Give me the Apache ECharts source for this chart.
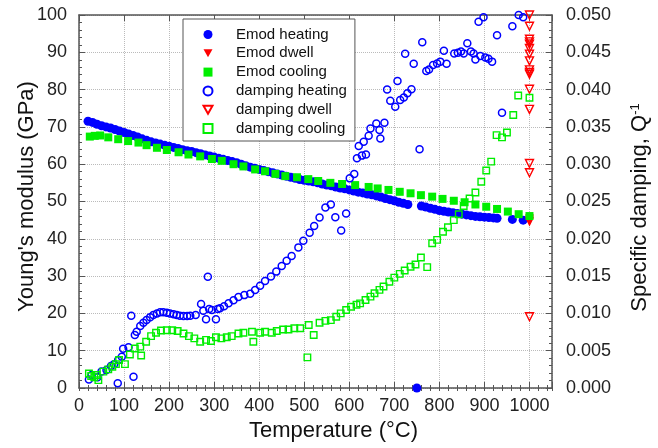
<!DOCTYPE html>
<html><head><meta charset="utf-8">
<script src="https://cdn.jsdelivr.net/npm/echarts@6/dist/echarts.min.js"></script>
<style>html,body{margin:0;padding:0;background:#fff}#c{width:658px;height:448px}</style>
</head><body><div id="c"></div>
<script>
// ---- data (Temperature °C, value) ----
const xTickLabels = [0,100,200,300,400,500,600,700,800,900,1000];
const emodHeating = [[20,71.5],[30,71.2],[40,70.7],[50,70.3],[60,70.0],[70,69.7],[80,69.3],[90,68.9],[100,68.5],[110,68.1],[120,67.7],[130,67.3],[140,66.8],[150,66.4],[160,66.0],[170,65.7],[180,65.4],[190,65.1],[200,64.8],[210,64.5],[220,64.2],[230,63.9],[240,63.6],[250,63.4],[260,63.1],[270,62.8],[280,62.5],[290,62.2],[300,61.9],[310,61.6],[320,61.3],[330,61.0],[340,60.7],[350,60.4],[360,60.0],[370,59.6],[380,59.2],[390,58.9],[400,58.6],[410,58.3],[420,58.0],[430,57.7],[440,57.4],[450,57.1],[460,56.8],[470,56.5],[480,56.2],[490,55.9],[500,55.7],[510,55.5],[520,55.3],[530,55.0],[540,54.7],[550,54.4],[560,54.2],[570,53.9],[580,53.6],[590,53.4],[600,53.1],[610,52.8],[620,52.5],[630,52.3],[640,52.0],[650,51.8],[660,51.5],[670,51.2],[680,50.8],[690,50.5],[700,50.2],[710,49.8],[720,49.5],[730,49.2],[750,0],[760,48.8],[770,48.5],[780,48.2],[790,47.9],[800,47.6],[810,47.4],[820,47.2],[830,47.0],[840,46.8],[850,46.6],[860,46.4],[870,46.2],[880,46.0],[890,45.9],[900,45.8],[910,45.7],[920,45.6],[928,45.5],[962,45.2],[986,45.0]];
const emodDwell = [[1000,45.3],[1000,44.8],[1000,44.5]];
const emodCooling = [[1000,46.1],[976,46.6],[952,47.3],[928,48.0],[904,48.6],[880,49.2],[856,49.8],[832,50.2],[807,50.7],[784,51.3],[759,51.7],[736,52.2],[712,52.6],[687,53.1],[663,53.5],[643,53.9],[613,54.4],[584,54.7],[558,55.0],[531,55.5],[509,56.0],[484,56.5],[458,56.8],[436,57.4],[413,58.1],[391,58.6],[365,59.4],[343,60.0],[317,60.9],[295,61.4],[269,62.1],[243,62.6],[221,63.2],[195,63.8],[173,64.4],[150,65.1],[132,65.8],[109,66.2],[87,66.7],[65,67.2],[47,67.7],[35,67.6],[24,67.4]];
const dampingHeating = [[22,0.00115],[28,0.00175],[41,0.00145],[50,0.0022],[61,0.0024],[71,0.00295],[78,0.0032],[86,0.00065],[87,0.00375],[95,0.0042],[98,0.00525],[110,0.00545],[116,0.0097],[121,0.0015],[124,0.0071],[128,0.00755],[136,0.0083],[143,0.00875],[150,0.0091],[158,0.0095],[165,0.0098],[173,0.0100],[180,0.01015],[187,0.01015],[195,0.0101],[202,0.0100],[210,0.0099],[217,0.0098],[224,0.0097],[232,0.00965],[240,0.00965],[247,0.0097],[259,0.0098],[271,0.01125],[276,0.01035],[282,0.0092],[286,0.0149],[289,0.0106],[295,0.01045],[304,0.0092],[308,0.0106],[313,0.0107],[322,0.01095],[332,0.01135],[343,0.01175],[354,0.0122],[367,0.01245],[380,0.01265],[391,0.01315],[402,0.0137],[413,0.01435],[426,0.01495],[438,0.0156],[450,0.01635],[461,0.01705],[472,0.0177],[487,0.01885],[498,0.01975],[512,0.0208],[522,0.0217],[534,0.02285],[547,0.0242],[559,0.0246],[569,0.0229],[582,0.0211],[593,0.0234],[601,0.0281],[611,0.0287],[617,0.0308],[621,0.03245],[628,0.03115],[632,0.033],[637,0.0313],[643,0.0338],[647,0.0348],[660,0.03545],[667,0.0346],[669,0.03345],[678,0.03555],[684,0.0400],[691,0.0385],[702,0.0377],[707,0.04115],[713,0.0386],[721,0.03895],[724,0.0448],[729,0.0395],[738,0.04005],[743,0.04345],[756,0.0320],[762,0.04635],[771,0.0425],[777,0.0427],[786,0.0433],[795,0.0435],[802,0.04375],[810,0.0452],[816,0.04345],[833,0.04485],[841,0.04495],[848,0.0451],[854,0.04485],[862,0.0462],[870,0.0451],[876,0.04485],[880,0.04405],[887,0.0491],[891,0.0445],[898,0.0497],[902,0.0443],[909,0.04415],[917,0.04375],[928,0.0473],[939,0.0369],[962,0.0485],[976,0.0500],[986,0.0497]];
const dampingDwell = [[1000,0.0500],[1000,0.0485],[1000,0.04675],[1000,0.0464],[1000,0.0461],[1000,0.0455],[1000,0.04475],[1000,0.04385],[1000,0.04265],[1000,0.0423],[1000,0.04205],[1000,0.04005],[1000,0.03735],[1000,0.0301],[1000,0.02885],[1000,0.00955]];
const dampingCooling = [[1000,0.0389],[975,0.0392],[964,0.0366],[950,0.03425],[939,0.0336],[927,0.0339],[915,0.03035],[904,0.02915],[893,0.02765],[880,0.0262],[867,0.0254],[854,0.0244],[843,0.0233],[832,0.0225],[819,0.02155],[808,0.02095],[795,0.01985],[784,0.0194],[773,0.0162],[759,0.0175],[747,0.01655],[736,0.01625],[723,0.01575],[712,0.0153],[700,0.0148],[689,0.01425],[676,0.0136],[667,0.01315],[656,0.0127],[647,0.01225],[636,0.0118],[624,0.01135],[616,0.01115],[604,0.0109],[593,0.01045],[581,0.0100],[571,0.00955],[559,0.0091],[547,0.0090],[534,0.00875],[521,0.0071],[510,0.00845],[507,0.0041],[491,0.0080],[478,0.0080],[465,0.00785],[453,0.00785],[439,0.00765],[428,0.0074],[413,0.00755],[402,0.0074],[387,0.0062],[384,0.00755],[365,0.0074],[354,0.0073],[339,0.00695],[328,0.0068],[316,0.00665],[304,0.0068],[293,0.0063],[282,0.00645],[269,0.0062],[256,0.00665],[244,0.00695],[232,0.0073],[219,0.00765],[207,0.00775],[195,0.00775],[182,0.0077],[171,0.0074],[160,0.00695],[149,0.0062],[138,0.00435],[136,0.00555],[124,0.0053],[113,0.0045],[102,0.0032],[89,0.00375],[82,0.0032],[74,0.00285],[65,0.0025],[54,0.0022],[43,0.00105],[39,0.00175],[34,0.00145],[27,0.0016],[22,0.00195]];

const FONT = '"Liberation Sans", Arial, sans-serif';
const AX = '#555';
const BLUE = '#0000ff', RED = '#ff0000', GREEN = '#00ee00';
const DOWN_TRI = 'path://M0,0L10,0L5,9Z';

const chart = echarts.init(document.getElementById('c'), null, {renderer: 'canvas'});

function minorX(pos) {
  return {type: 'value', position: pos, min: 0, max: 1050, interval: 20,
    axisLine: {show: false}, axisTick: {show: true, inside: true, length: 3, lineStyle: {color: AX, width: 1}},
    axisLabel: {show: false}, splitLine: {show: false}};
}

chart.setOption({
  animation: false,
  backgroundColor: '#fff',
  grid: {left: 79, right: 106, top: 15, bottom: 60, containLabel: false, outerBoundsMode: 'none'},
  legend: {
    orient: 'vertical', left: 183, top: 19,
    padding: [8, 8, 5, 19.5], itemGap: 3.8, itemWidth: 9, itemHeight: 9,
    backgroundColor: '#fff', borderColor: '#555', borderWidth: 1,
    textStyle: {fontFamily: FONT, fontSize: 15, color: '#111', padding: [0, 0, 0, 18.5]},
    data: [
      {name: 'Emod heating', icon: 'circle'},
      {name: 'Emod dwell', icon: DOWN_TRI},
      {name: 'Emod cooling', icon: 'rect'},
      {name: 'damping heating', icon: 'circle'},
      {name: 'damping dwell', icon: DOWN_TRI},
      {name: 'damping cooling', icon: 'rect'}
    ]
  },
  xAxis: [
    {type: 'value', position: 'bottom', min: 0, max: 1050, interval: 100,
      axisLine: {show: true, onZero: false, lineStyle: {color: AX, width: 1.5}},
      axisTick: {show: true, inside: true, length: 6, lineStyle: {color: AX, width: 1}},
      axisLabel: {fontFamily: FONT, fontSize: 18, color: '#222', margin: 9,
        formatter: v => (xTickLabels.indexOf(v) >= 0 ? String(v) : '')},
      splitLine: {show: true, lineStyle: {type: 'dotted', color: '#bbb', width: 1}},
      name: 'Temperature (\u00B0C)', nameLocation: 'middle', nameGap: 32, nameMoveOverlap: false,
      nameTextStyle: {fontFamily: FONT, fontSize: 22, color: '#111', padding: [0, 0, 0, 36]}},
    minorX('bottom'),
    {type: 'value', position: 'top', min: 0, max: 1050, interval: 100,
      axisLine: {show: true, onZero: false, lineStyle: {color: AX, width: 1.5}},
      axisTick: {show: true, inside: true, length: 6, lineStyle: {color: AX, width: 1}},
      axisLabel: {show: false}, splitLine: {show: false}},
    minorX('top')
  ],
  yAxis: [
    {type: 'value', position: 'left', min: 0, max: 100, interval: 10,
      axisLine: {show: true, onZero: false, lineStyle: {color: AX, width: 1.5}},
      axisTick: {show: true, inside: true, length: 6, lineStyle: {color: AX, width: 1}},
      minorTick: {show: true, splitNumber: 5, length: 3, lineStyle: {color: AX, width: 1}},
      axisLabel: {fontFamily: FONT, fontSize: 18, color: '#222', margin: 12},
      splitLine: {show: true, lineStyle: {type: 'dotted', color: '#bbb', width: 1}},
      name: "Young's modulus (GPa)", nameLocation: 'middle', nameGap: 41, nameRotate: 90, nameMoveOverlap: false,
      nameTextStyle: {fontFamily: FONT, fontSize: 22, color: '#111', padding: [0, 0, 0, 10]}},
    {type: 'value', position: 'right', min: 0, max: 0.05, interval: 0.005,
      axisLine: {show: true, onZero: false, lineStyle: {color: AX, width: 1.5}},
      axisTick: {show: true, inside: true, length: 6, lineStyle: {color: AX, width: 1}},
      minorTick: {show: true, splitNumber: 5, length: 3, lineStyle: {color: AX, width: 1}},
      axisLabel: {fontFamily: FONT, fontSize: 18, color: '#222', margin: 14, formatter: v => v.toFixed(3)},
      splitLine: {show: false},
      name: 'Specific damping, Q{sup|-1}', nameLocation: 'middle', nameGap: 77, nameRotate: 90, nameMoveOverlap: false,
      nameTextStyle: {fontFamily: FONT, fontSize: 22, color: '#111', padding: [0, 12, 0, 0],
        rich: {sup: {fontFamily: FONT, fontSize: 13, color: '#111', verticalAlign: 'top', lineHeight: 22}}}}
  ],
  series: [
    {name: 'Emod heating', type: 'scatter', xAxisIndex: 0, yAxisIndex: 0, data: emodHeating, clip: false,
      symbol: 'circle', symbolSize: 9, itemStyle: {color: BLUE, opacity: 1}},
    {name: 'Emod dwell', type: 'scatter', xAxisIndex: 0, yAxisIndex: 0, data: emodDwell, clip: false,
      symbol: 'triangle', symbolRotate: 180, symbolSize: 9, itemStyle: {color: RED, opacity: 1}},
    {name: 'Emod cooling', type: 'scatter', xAxisIndex: 0, yAxisIndex: 0, data: emodCooling, clip: false,
      symbol: 'rect', symbolSize: 8, itemStyle: {color: GREEN, opacity: 1}},
    {name: 'damping heating', type: 'scatter', xAxisIndex: 0, yAxisIndex: 1, data: dampingHeating, clip: false,
      symbol: 'circle', symbolSize: 7, itemStyle: {color: 'rgba(255,255,255,0)', borderColor: BLUE, borderWidth: 1.5, opacity: 1}},
    {name: 'damping dwell', type: 'scatter', xAxisIndex: 0, yAxisIndex: 1, data: dampingDwell, clip: false,
      symbol: 'triangle', symbolRotate: 180, symbolSize: 8, itemStyle: {color: 'rgba(255,255,255,0)', borderColor: RED, borderWidth: 1.4, opacity: 1}},
    {name: 'damping cooling', type: 'scatter', xAxisIndex: 0, yAxisIndex: 1, data: dampingCooling, clip: false,
      symbol: 'rect', symbolSize: 6.5, itemStyle: {color: 'rgba(255,255,255,0)', borderColor: GREEN, borderWidth: 1.4, opacity: 1}}
  ]
});
</script></body></html>
